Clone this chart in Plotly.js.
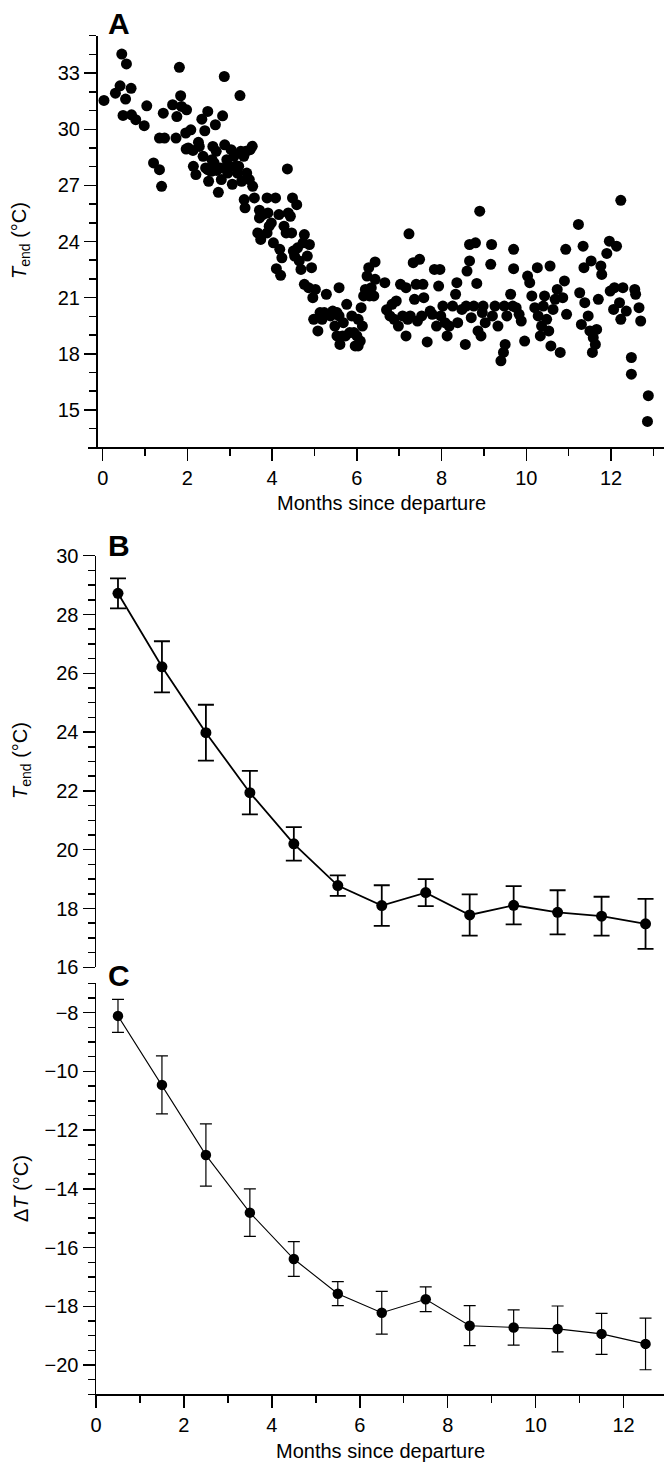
<!DOCTYPE html>
<html>
<head>
<meta charset="utf-8">
<script src="https://cdn.plot.ly/plotly-3.0.1.min.js"></script>
<style>html,body{margin:0;padding:0;background:#fff;}#chart{width:664px;height:1463px;}</style>
</head>
<body>
<div id="chart"></div>
<script>
// Panel A: individual observations (months since departure, T_end in °C)
const monthsA = [
0.03,0.30,0.41,0.45,0.56,0.67,0.54,0.48,0.68,0.78,0.98,1.04,1.20,1.34,1.39,1.34,1.46,1.43,1.65,1.75,
1.73,1.81,1.84,1.86,1.98,1.97,1.96,2.08,2.13,2.14,2.20,2.26,2.34,2.37,2.41,2.48,2.48,2.50,2.58,2.66,
2.68,2.69,2.73,2.83,2.87,2.88,2.93,2.98,3.03,3.06,3.13,3.18,3.24,3.26,3.28,3.38,3.40,3.48,3.53,3.54,
4.36,2.28,2.43,2.56,2.63,2.78,2.80,2.95,3.10,3.21,3.33,3.46,2.60,2.02,
3.34,3.36,3.58,3.70,3.70,3.66,3.73,3.78,3.88,3.88,3.90,3.93,3.98,4.03,4.08,4.10,4.16,4.18,4.20,4.23,
4.28,4.33,4.38,4.43,4.48,4.46,4.50,4.53,4.58,4.60,4.64,4.68,4.73,4.76,4.76,4.83,4.86,4.88,4.93,4.96,
4.98,5.02,5.08,5.13,5.23,5.28,5.43,5.48,5.53,5.58,5.58,5.60,5.68,5.73,5.76,5.83,5.88,5.96,6.00,6.03,
6.08,6.10,6.13,6.16,6.20,6.24,6.28,6.30,6.34,6.40,6.43,6.43,6.66,6.70,6.78,6.83,6.88,6.93,6.98,7.03,
7.08,7.16,7.16,7.20,7.23,7.26,7.33,7.36,7.40,7.43,7.48,7.53,7.56,7.58,7.66,7.73,7.78,7.83,7.88,7.93,
7.96,7.98,8.03,8.08,8.13,8.18,8.26,8.33,8.36,8.38,8.48,8.56,8.58,8.60,8.66,8.66,8.70,8.76,8.80,8.83,
8.86,8.90,8.93,8.96,8.98,9.03,9.16,9.18,9.20,9.26,9.33,9.40,9.46,9.50,9.48,9.54,9.63,9.68,9.70,9.70,
9.76,9.83,9.88,9.96,10.03,10.08,10.13,10.20,10.26,10.28,10.33,10.36,10.40,10.43,10.48,10.53,10.56,10.58,10.63,10.68,
10.73,10.80,10.86,10.90,10.93,10.95,11.23,11.26,11.30,11.34,11.36,11.38,11.46,11.50,11.53,11.56,11.58,11.63,11.66,11.70,
11.76,11.78,11.90,11.96,11.98,12.06,12.08,12.13,12.20,12.23,12.23,12.28,12.36,12.48,12.48,12.56,12.58,12.66,12.70,12.88,
12.86,5.18,5.38,5.53,5.66,5.93,6.03
];
const tendA = [
31.54,31.93,32.32,34.02,33.49,32.19,31.61,30.74,30.77,30.51,30.19,31.25,28.20,27.84,26.95,29.53,29.53,30.86,31.31,30.68,
29.53,33.31,31.79,31.22,31.04,28.94,29.80,29.97,28.87,28.02,27.58,29.30,30.54,28.55,29.92,30.95,27.84,27.22,28.37,30.24,
28.82,27.80,26.63,30.72,32.82,29.17,28.37,28.02,28.91,27.06,28.02,27.66,31.80,28.82,27.22,28.82,27.66,28.91,29.09,26.95,
27.88,29.08,27.93,27.75,28.20,27.93,27.31,27.66,28.55,28.02,28.55,27.31,29.08,29.00,
26.24,25.80,26.33,25.67,25.26,24.46,24.11,25.44,26.33,24.46,25.53,24.82,24.99,23.93,26.33,22.55,25.44,23.58,22.19,23.13,
24.82,24.46,25.53,25.35,26.33,24.46,23.49,23.22,25.97,23.66,22.96,22.51,23.93,24.37,21.71,23.22,21.53,23.84,22.60,21.00,
19.84,21.44,19.22,20.20,20.20,21.18,20.28,19.48,18.95,21.53,20.02,18.50,19.66,18.95,20.64,19.13,20.02,18.42,18.95,19.84,
18.68,20.46,19.48,21.09,21.44,22.15,22.60,21.09,21.53,21.09,22.91,21.98,21.80,20.35,20.02,20.64,19.84,20.82,19.48,21.71,
20.02,18.95,21.53,19.84,24.41,20.02,22.87,20.91,21.71,19.75,23.05,20.02,21.71,21.00,18.63,20.28,20.11,22.51,19.48,21.62,
22.51,20.02,20.55,19.66,18.95,19.48,20.55,21.18,21.80,19.66,20.37,18.50,20.55,22.42,22.96,23.84,19.93,20.55,23.93,21.76,
19.22,25.62,18.95,20.20,20.55,19.66,22.78,23.84,20.02,20.55,19.48,17.62,18.07,18.50,20.55,20.02,21.18,20.55,23.58,22.55,
20.46,20.11,19.75,18.68,22.15,21.80,21.09,20.46,22.60,20.02,18.95,19.48,20.55,21.09,19.84,19.22,22.69,18.42,20.37,20.91,
21.44,18.07,21.00,21.89,23.58,20.11,24.91,21.26,19.57,23.75,22.60,20.73,20.02,19.22,22.96,18.07,18.86,18.50,19.30,20.91,
22.69,22.24,23.36,24.02,21.35,20.37,21.53,23.75,20.73,26.20,19.84,21.53,20.28,17.80,16.91,21.44,21.18,20.46,19.75,15.76,
14.38,19.84,20.02,20.20,18.95,19.13,18.42
];

// Panels B and C: monthly means with error bars
const monthsBin = [0.5,1.5,2.5,3.5,4.5,5.5,6.5,7.5,8.5,9.5,10.5,11.5,12.5];
const tendMean = [28.72,26.22,23.98,21.94,20.20,18.78,18.10,18.54,17.78,18.11,17.87,17.74,17.48];
const tendErr  = [0.51,0.87,0.95,0.74,0.57,0.35,0.69,0.46,0.70,0.65,0.75,0.66,0.85];
const dTMean = [-8.11,-10.46,-12.85,-14.81,-16.39,-17.57,-18.22,-17.76,-18.66,-18.72,-18.77,-18.94,-19.28];
const dTErr  = [0.56,0.99,1.06,0.81,0.59,0.41,0.73,0.42,0.68,0.60,0.78,0.70,0.88];

// Axis labels
const xTitle = 'Months since departure';
const tendTitle = '<i>T</i><sub>end</sub> (°C)';
const dTTitle = 'Δ<i>T</i> (°C)';
const panelLetters = ['A','B','C'];

const W = 664, H = 1463;
const px = v => v / W;
const py = v => (H - v) / H;
const FONT = 'Liberation Sans, Arial, Helvetica, sans-serif';

const traces = [
  {x: monthsA, y: tendA, type: 'scatter', mode: 'markers', xaxis: 'x', yaxis: 'y',
   marker: {color: '#000', size: 11}, hoverinfo: 'skip'},
  {x: monthsBin, y: tendMean, type: 'scatter', mode: 'lines+markers', xaxis: 'x2', yaxis: 'y2',
   marker: {color: '#000', size: 11}, line: {color: '#000', width: 1.8},
   error_y: {type: 'data', array: tendErr, visible: true, color: '#000', thickness: 1.8, width: 8}},
  {x: monthsBin, y: dTMean, type: 'scatter', mode: 'lines+markers', xaxis: 'x3', yaxis: 'y3',
   marker: {color: '#000', size: 10.5}, line: {color: '#000', width: 1.1},
   error_y: {type: 'data', array: dTErr, visible: true, color: '#000', thickness: 1.2, width: 6}}
];

const axCommon = {
  showline: true, linecolor: '#000', linewidth: 1.5, ticks: 'outside', ticklen: 12, tickwidth: 1.5,
  tickcolor: '#000', showgrid: false, zeroline: false, fixedrange: true,
  tickfont: {family: FONT, size: 20, color: '#000'}
};
const minorTicks = d => ({dtick: d, ticks: 'outside', ticklen: 7, tickwidth: 1.5, tickcolor: '#000', showgrid: false});

const layout = {
  width: W, height: H,
  margin: {l: 0, r: 0, t: 0, b: 0},
  paper_bgcolor: '#fff', plot_bgcolor: '#fff',
  showlegend: false,
  font: {family: FONT, size: 20, color: '#000'},
  xaxis: Object.assign({}, axCommon, {domain: [px(88.3), 1], range: [-0.34, 13.25], anchor: 'y',
    tick0: 0, dtick: 2, minor: minorTicks(1)}),
  yaxis: Object.assign({}, axCommon, {domain: [py(447.3), py(35.7)], range: [13, 35], anchor: 'free',
    position: px(96), tick0: 15, dtick: 3, minor: minorTicks(1)}),
  xaxis2: Object.assign({}, axCommon, {domain: [px(96), 1], range: [0, 12.92], anchor: 'y2', visible: false}),
  yaxis2: Object.assign({}, axCommon, {domain: [py(967.3), py(555.7)], range: [16, 30], anchor: 'x2',
    tick0: 0, dtick: 2, minor: minorTicks(0.5)}),
  xaxis3: Object.assign({}, axCommon, {domain: [px(96), 1], range: [0, 12.92], anchor: 'y3',
    tick0: 0, dtick: 2, minor: minorTicks(1)}),
  yaxis3: Object.assign({}, axCommon, {domain: [py(1394.4), py(983.3)], range: [-21, -7], anchor: 'x3',
    tick0: 0, dtick: 2, minor: minorTicks(0.5)}),
  annotations: [
    {text: xTitle, xref: 'paper', yref: 'paper', x: px(381), y: py(503), xanchor: 'center', yanchor: 'middle', showarrow: false, font: {size: 20}},
    {text: xTitle, xref: 'paper', yref: 'paper', x: px(380), y: py(1451), xanchor: 'center', yanchor: 'middle', showarrow: false, font: {size: 20}},
    {text: tendTitle, xref: 'paper', yref: 'paper', x: px(21), y: py(241), xanchor: 'center', yanchor: 'middle', textangle: -90, showarrow: false, font: {size: 20}},
    {text: tendTitle, xref: 'paper', yref: 'paper', x: px(21), y: py(761), xanchor: 'center', yanchor: 'middle', textangle: -90, showarrow: false, font: {size: 20}},
    {text: dTTitle, xref: 'paper', yref: 'paper', x: px(21), y: py(1189), xanchor: 'center', yanchor: 'middle', textangle: -90, showarrow: false, font: {size: 20}},
    {text: '<b>' + panelLetters[0] + '</b>', xref: 'paper', yref: 'paper', x: px(106), y: py(24), xanchor: 'left', yanchor: 'middle', showarrow: false, font: {size: 30}},
    {text: '<b>' + panelLetters[1] + '</b>', xref: 'paper', yref: 'paper', x: px(106), y: py(546), xanchor: 'left', yanchor: 'middle', showarrow: false, font: {size: 30}},
    {text: '<b>' + panelLetters[2] + '</b>', xref: 'paper', yref: 'paper', x: px(106), y: py(975), xanchor: 'left', yanchor: 'middle', showarrow: false, font: {size: 30}}
  ]
};

Plotly.newPlot('chart', traces, layout, {displayModeBar: false, staticPlot: true});
</script>
</body>
</html>
